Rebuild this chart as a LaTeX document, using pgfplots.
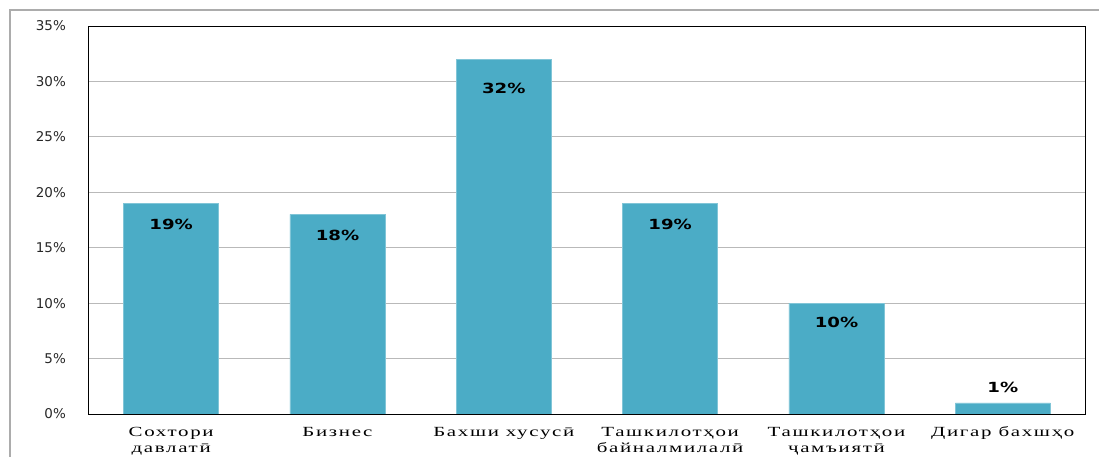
\documentclass[border=0pt]{standalone}
\usepackage{pgfplots}
\pgfplotsset{compat=1.18}
\usepackage{pgfplotstable}
\usepackage{fontspec}
\setmainfont{DejaVu Sans}[FakeStretch=1.3]
\newfontfamily\tickfont{DejaVu Sans}
\newfontfamily\catfont{Liberation Serif}[FakeStretch=1.5,LetterSpace=12]
\definecolor{barc}{HTML}{4BACC6}
\pgfplotstableread{
x y off
0 19 -21
1 18 -21
2 32 -29
3 19 -21
4 10 -19
5 1 15
}\data
\newcommand{\cat}[1]{\catfont\fontsize{14}{16}\selectfont\begin{tabular}{@{}c@{}}#1\end{tabular}}
\begin{document}
\begin{tikzpicture}
\useasboundingbox (0bp,0bp) rectangle (1099bp,457bp);
\draw[gray!65, line width=1.6bp] (10bp,0bp) -- (10bp,447bp) -- (1099bp,447bp);
\begin{axis}[
  at={(88bp,43bp)}, anchor=south west,
  scale only axis, width=998bp, height=388bp,
  /pgf/number format/assume math mode=true,
  xmin=-0.5, xmax=5.5, ymin=0, ymax=35,
  ytick={0,5,...,35},
  yticklabel={\pgfmathprintnumber{\tick}\%},
  yticklabel style={anchor=east, inner sep=0pt, xshift=-22bp, font=\tickfont\fontsize{13.5}{14}\selectfont, text=black!85},
  ymajorgrids, grid style={gray!55, line width=0.8bp},
  xtick={0,...,5},
  xticklabels={{\cat{Сохтори\\давлатӣ}},{\cat{Бизнес}},{\cat{Бахши хусусӣ}},{\cat{Ташкилотҳои\\байналмилалӣ}},{\cat{Ташкилотҳои\\ҷамъиятӣ}},{\cat{Дигар бахшҳо}}},
  xticklabel style={anchor=north, inner sep=0pt, yshift=-11bp},
  major tick length=0pt,
  axis line style={black, line width=0.9bp},
  ybar, bar width=95bp, bar shift=0pt,
  visualization depends on={\thisrow{off}\as\off},
  nodes near coords={\pgfmathprintnumber{\pgfplotspointmeta}\%},
  every node near coord/.append style={anchor=center, yshift=\off bp, font=\bfseries\fontsize{14}{14}\selectfont, text=black},
]
\addplot[fill=barc, draw=barc!70!white] table[x=x,y=y]{\data};
\end{axis}
\end{tikzpicture}
\end{document}
